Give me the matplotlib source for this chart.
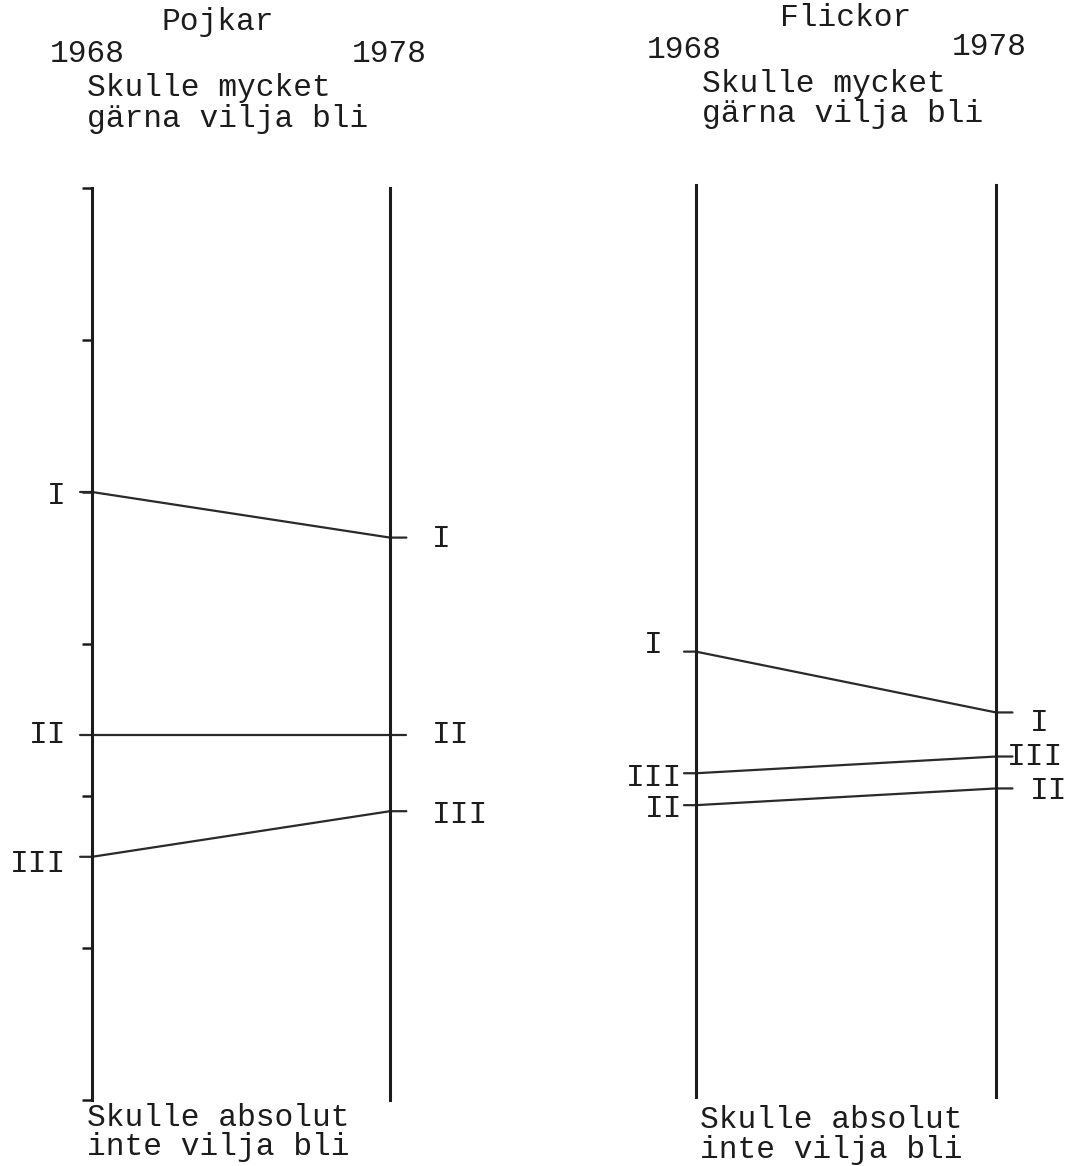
import numpy as np
import matplotlib
matplotlib.use('Agg')
import matplotlib.pyplot as plt

# scale 1 (bottom, "absolut inte") .. 7 (top, "mycket gärna")
years = ['1968', '1978']
groups = ['I', 'II', 'III']

boys_1968 = [5.00, 3.40, 2.60]
boys_1978 = [4.70, 3.40, 2.90]

girls_1968 = [3.93, 2.92, 3.13]
girls_1978 = [3.53, 3.03, 3.24]

top_text = ['Skulle mycket', 'gärna vilja bli']
bottom_text = ['Skulle absolut', 'inte vilja bli']

W, H = 1066, 1166
ink = '#1c1c1c'
font = 'Liberation Mono'
fs = 22.5

fig = plt.figure(figsize=(W / 100, H / 100), dpi=100)
fig.patch.set_facecolor('white')


def fx(px):
    return px / W


def fy(py):
    return 1 - py / H


def panel(x0, x1, ytop, ybot, v68, v78, ticks, left_off, right_off):
    ax = fig.add_axes([fx(x0), fy(ybot), fx(x1 - x0), fy(ytop) - fy(ybot)])
    ax.set_xlim(0, 1)
    ax.set_ylim(1, 7)
    for s in ['top', 'bottom']:
        ax.spines[s].set_visible(False)
    for s in ['left', 'right']:
        ax.spines[s].set_linewidth(2.2)
        ax.spines[s].set_color(ink)
    ax.set_xticks([])
    if ticks:
        ax.set_yticks(np.arange(1, 8))
        ax.tick_params(axis='y', direction='out', length=7, width=1.8,
                       color=ink, labelleft=False)
    else:
        ax.set_yticks([])
    ax.set_facecolor('none')

    for g, a, b, lo, ro in zip(groups, v68, v78, left_off, right_off):
        ax.plot([-0.04, 0, 1, 1.055], [a, a, b, b], color='#2a2a2a',
                lw=1.6, clip_on=False, solid_capstyle='round')
        ax.annotate(g, (0, a), xytext=lo, textcoords='offset pixels',
                    ha='right', va='center_baseline', fontsize=fs,
                    family=font, color=ink, annotation_clip=False)
        ax.annotate(g, (1, b), xytext=ro, textcoords='offset pixels',
                    ha='left', va='center_baseline', fontsize=fs,
                    family=font, color=ink, annotation_clip=False)
    return ax


panel(92, 390, 188, 1100, boys_1968, boys_1978, True,
      [(-26, 0), (-26, 4), (-26, -4)],
      [(42, 2), (42, 4), (42, 0)])
panel(696, 996, 185, 1097, girls_1968, girls_1978, False,
      [(-33, 10), (-14, 0), (-14, -1)],
      [(34, -7), (34, 1), (11, 3)])


def txt(x, y, s, **kw):
    fig.text(fx(x), fy(y), s, fontsize=fs, family=font, color=ink,
             va='baseline', **kw)


# Pojkar header
txt(218, 30, 'Pojkar', ha='center')
txt(50, 62, years[0])
txt(352, 62, years[1])
txt(87, 96, top_text[0])
txt(87, 127, top_text[1])
txt(87, 1126, bottom_text[0])
txt(87, 1155, bottom_text[1])

# Flickor header
txt(846, 26, 'Flickor', ha='center')
txt(647, 58, years[0])
txt(952, 55, years[1])
txt(702, 92, top_text[0])
txt(702, 122, top_text[1])
txt(700, 1128, bottom_text[0])
txt(700, 1158, bottom_text[1])

fig.savefig('out.png', dpi=100, facecolor='white')
